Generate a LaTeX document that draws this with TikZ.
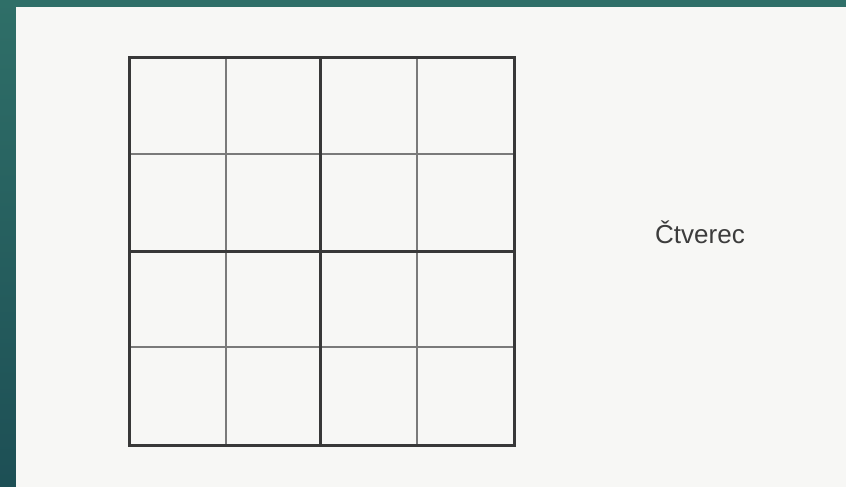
\documentclass[tikz,border=0pt]{standalone}
\usepackage{fontspec}
\setmainfont{Liberation Sans}
\definecolor{tealA}{HTML}{2F6F68}
\definecolor{tealB}{HTML}{1D4F55}
\definecolor{paper}{HTML}{F7F7F5}
\definecolor{thickc}{HTML}{383838}
\definecolor{thinc}{HTML}{7A7A7A}
\definecolor{labc}{HTML}{3C3C3C}
\begin{document}
\begin{tikzpicture}[x=1pt,y=-1pt,
  thickline/.style={draw=thickc,line width=3pt,line cap=rect},
  thinline/.style={draw=thinc,line width=1.3pt},
  lab/.style={font=\fontsize{26}{30}\selectfont,text=labc,anchor=base west,inner sep=0pt}]
\useasboundingbox (0,0) rectangle (846,487);
\shade[top color=tealA,bottom color=tealB] (0,0) rectangle (846,487);
\fill[paper] (16,7) rectangle (846,487);
% coordinates of the grid
\coordinate (tl) at (129,58);
\coordinate (br) at (514,445);
% thin lines
\draw[thinline] (226,58) -- (226,445);
\draw[thinline] (417,58) -- (417,445);
\draw[thinline] (129,154) -- (514,154);
\draw[thinline] (129,347) -- (514,347);
% thick lines
\draw[thickline] (320,58) -- (320,445);
\draw[thickline] (129,251) -- (514,251);
\draw[thickline] (tl) rectangle (br);
\node[lab] (label) at (655,243) {Čtverec};
\end{tikzpicture}
\end{document}
